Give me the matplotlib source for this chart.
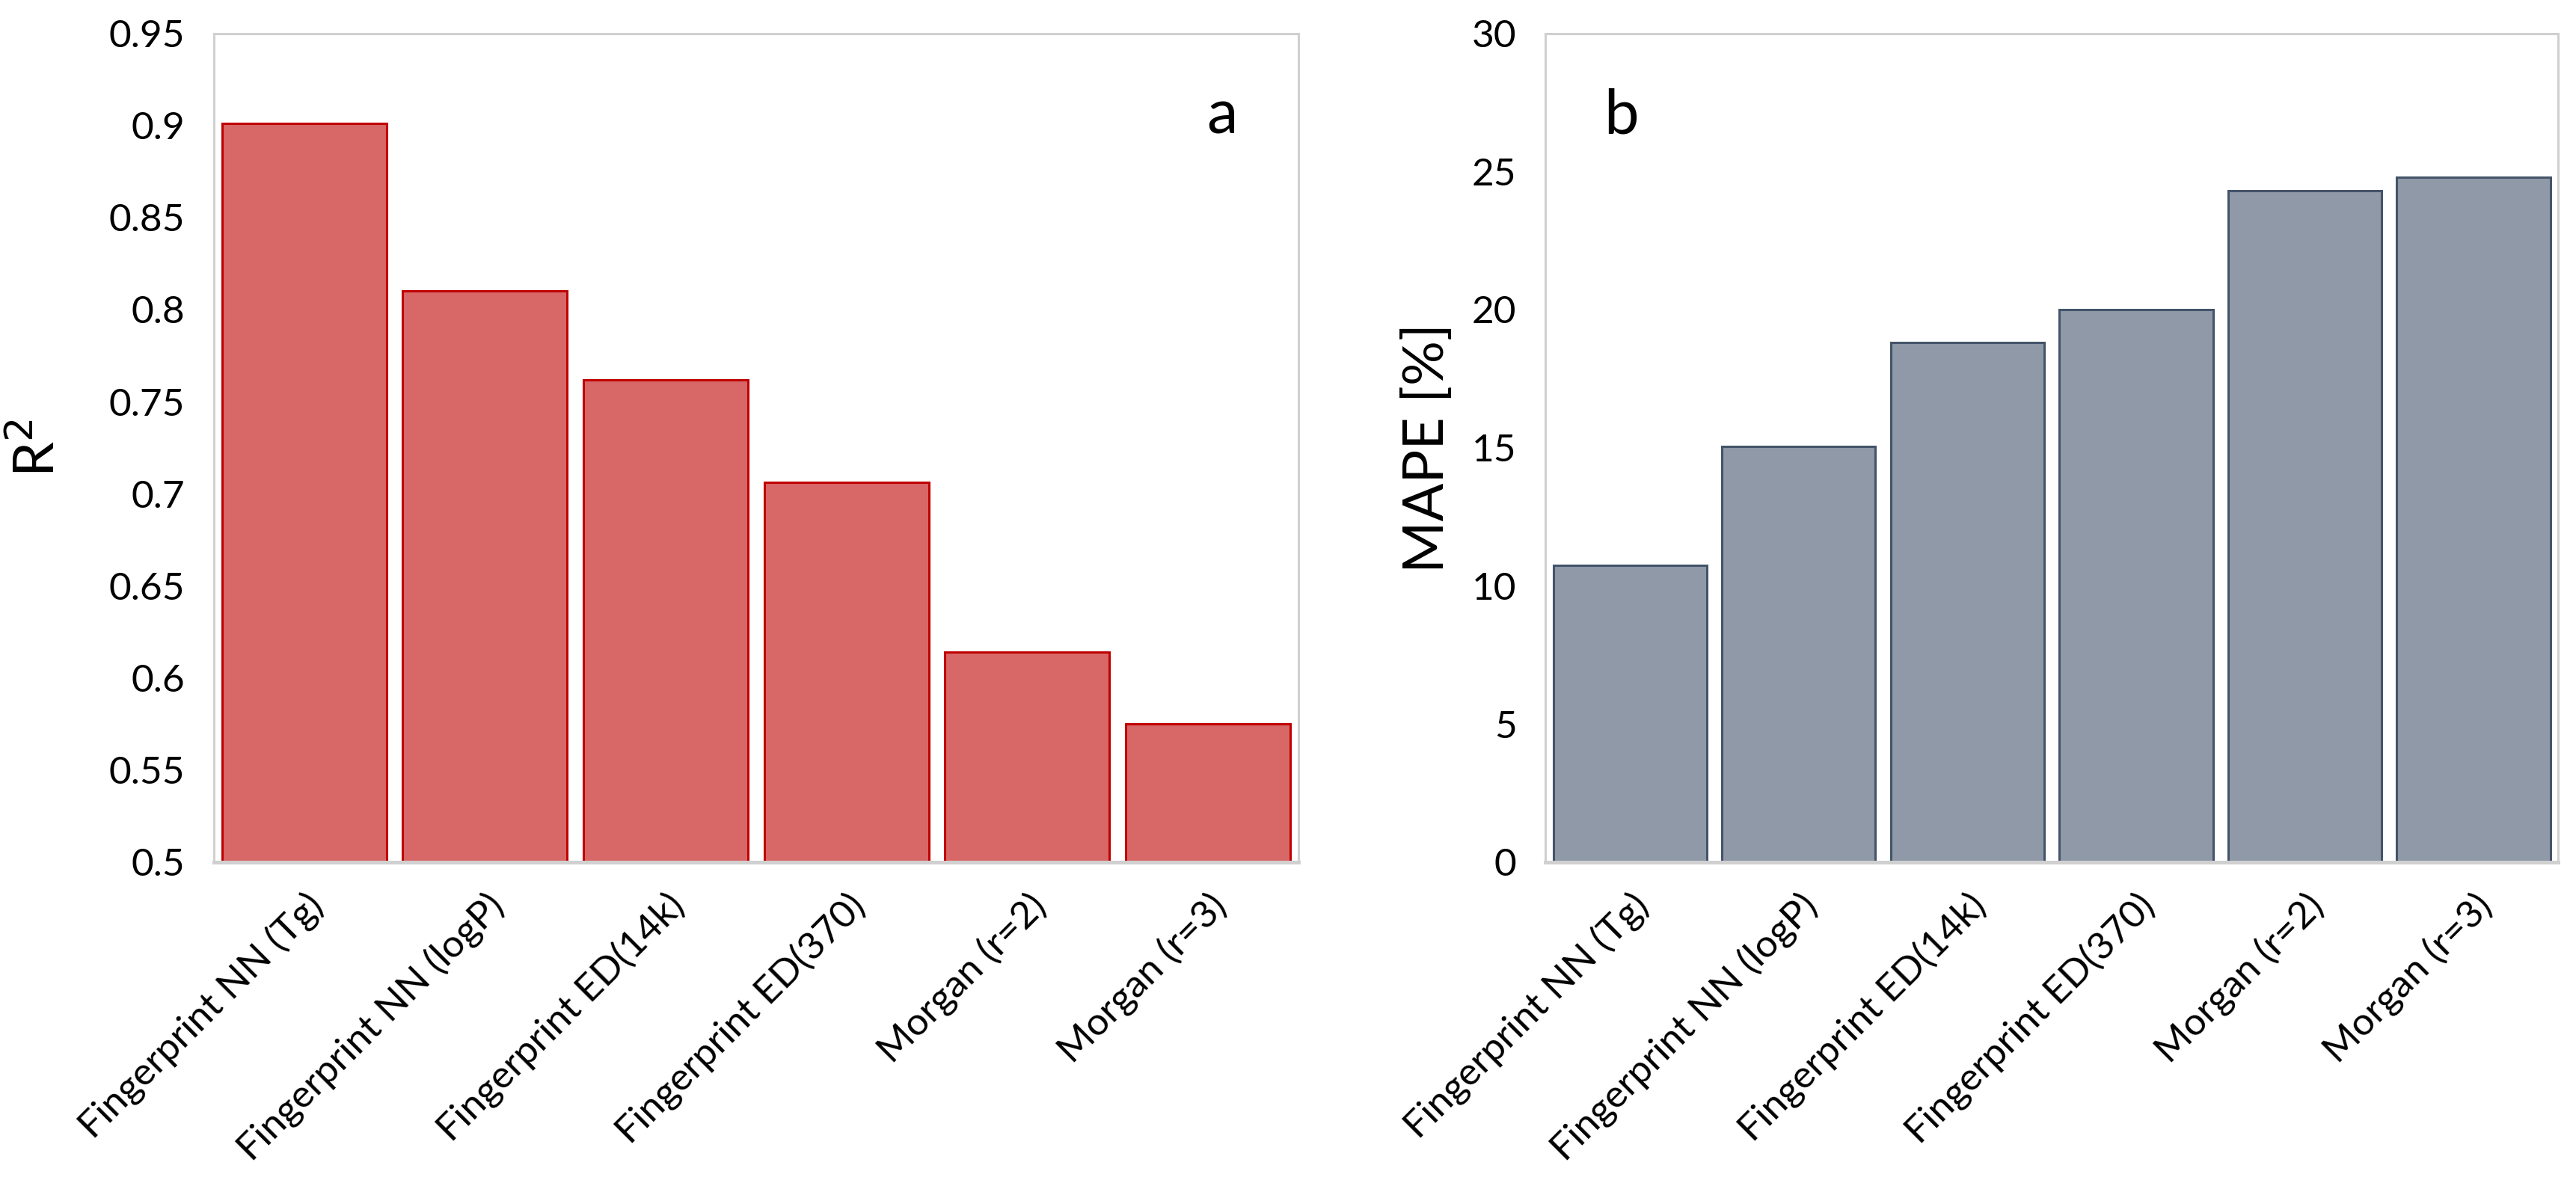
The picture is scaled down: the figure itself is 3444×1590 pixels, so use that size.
import matplotlib
matplotlib.use("Agg")
import matplotlib.pyplot as plt

plt.rcParams['font.family'] = ['Lato', 'DejaVu Sans']

# data
models = ['Fingerprint NN (Tg)', 'Fingerprint NN (logP)', 'Fingerprint ED(14k)',
          'Fingerprint ED(370)', 'Morgan (r=2)', 'Morgan (r=3)']
r2 = [0.901, 0.810, 0.762, 0.706, 0.614, 0.575]
mape = [10.75, 15.05, 18.8, 20.0, 24.3, 24.8]

r2_ticks = [0.5, 0.55, 0.6, 0.65, 0.7, 0.75, 0.8, 0.85, 0.9, 0.95]
r2_ticklabels = ['0.5', '0.55', '0.6', '0.65', '0.7', '0.75', '0.8', '0.85', '0.9', '0.95']
mape_ticks = [0, 5, 10, 15, 20, 25, 30]

fig = plt.figure(figsize=(17.22, 7.95), dpi=200)
ax1 = fig.add_axes([0.083, 0.275, 0.421, 0.697])
ax2 = fig.add_axes([0.600, 0.275, 0.393, 0.697])

x = list(range(len(models)))


def style(ax):
    for side in ['top', 'right', 'left']:
        ax.spines[side].set_color('#D0D0D0')
        ax.spines[side].set_linewidth(1.1)
    ax.spines['bottom'].set_color('#D0D0D0')
    ax.spines['bottom'].set_linewidth(1.8)
    ax.tick_params(axis='both', length=0, labelsize=18.5)
    ax.tick_params(axis='y', pad=14)
    ax.tick_params(axis='x', pad=12)
    ax.set_xlim(-0.5, len(models) - 0.5)
    ax.set_xticks(x)
    ax.set_xticklabels(models, rotation=45, ha='right', va='top', rotation_mode='anchor')


# panel a
ax1.bar(x, r2, width=0.91, color='#D86868', edgecolor='#C00000', linewidth=1.1, zorder=2)
ax1.set_ylim(0.5, 0.95)
ax1.set_yticks(r2_ticks)
ax1.set_yticklabels(r2_ticklabels)
style(ax1)
ax1.set_ylabel('R$^2$', fontsize=27)
ax1.yaxis.set_label_coords(-0.138, 0.5)
ax1.text(0.93, 0.9, 'a', transform=ax1.transAxes, fontsize=30, ha='center', va='center')

# panel b
ax2.bar(x, mape, width=0.91, color='#8F99A8', edgecolor='#44546A', linewidth=1.1, zorder=2)
ax2.set_ylim(0, 30)
ax2.set_yticks(mape_ticks)
style(ax2)
ax2.set_ylabel('MAPE [%]', fontsize=27)
ax2.yaxis.set_label_coords(-0.091, 0.5)
ax2.text(0.075, 0.9, 'b', transform=ax2.transAxes, fontsize=30, ha='center', va='center')

fig.savefig('out.png', dpi=200)
